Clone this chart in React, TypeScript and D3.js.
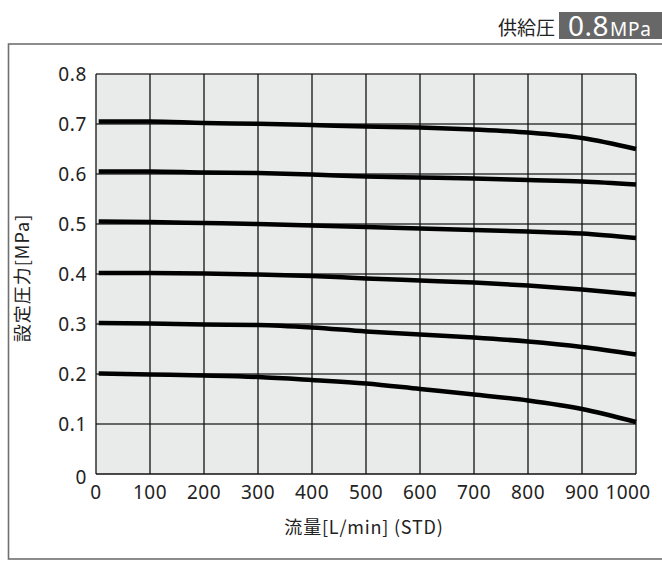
import React from 'react';
import * as d3 from 'd3';

// flow [L/min] (STD) sample points
const flows = [5, 100, 200, 300, 400, 500, 600, 700, 800, 900, 1000];

// set pressure [MPa]
const p07 = [0.705, 0.705, 0.702, 0.7006, 0.698, 0.695, 0.693, 0.689, 0.683, 0.672, 0.65];
const p06 = [0.605, 0.605, 0.603, 0.602, 0.599, 0.595, 0.593, 0.591, 0.588, 0.585, 0.579];
const p05 = [0.505, 0.504, 0.502, 0.5, 0.497, 0.494, 0.491, 0.488, 0.485, 0.481, 0.472];
const p04 = [0.402, 0.402, 0.401, 0.399, 0.396, 0.391, 0.387, 0.383, 0.377, 0.369, 0.359];
const p03 = [0.302, 0.301, 0.299, 0.298, 0.293, 0.285, 0.279, 0.273, 0.265, 0.254, 0.239];
const p02 = [0.201, 0.199, 0.197, 0.194, 0.188, 0.181, 0.17, 0.159, 0.147, 0.13, 0.104];

const series = [p07, p06, p05, p04, p03, p02];

const xTicks = [0, 100, 200, 300, 400, 500, 600, 700, 800, 900, 1000];
const yTicks = [0, 0.1, 0.2, 0.3, 0.4, 0.5, 0.6, 0.7, 0.8];

const supplyLabel = '供給圧';
const supplyValue = '0.8';
const supplyUnit = 'MPa';
const xTitle = '流量[L/min] (STD)';
const yTitle = '設定圧力[MPa]';

const W = 662;
const H = 561;
const plot = { left: 96, right: 636, top: 74, bottom: 474 };

const numFont = '"Noto Sans", "DejaVu Sans", sans-serif';
const cjkFont = '"Noto Sans CJK JP", "Noto Sans", sans-serif';

export default function App() {
  const x = d3.scaleLinear().domain([0, 1000]).range([plot.left, plot.right]);
  const y = d3.scaleLinear().domain([0, 0.8]).range([plot.bottom, plot.top]);

  const line = d3
    .line<number>()
    .x((_, i) => x(flows[i]))
    .y((d) => y(d))
    .curve(d3.curveMonotoneX);

  return (
    <>
      <style>{`body{margin:0}`}</style>
      <svg width={W} height={H} style={{ display: 'block' }}>
        <rect x={0} y={0} width={W} height={H} fill="#fff" />

        {/* header */}
        <text x={555} y={35} textAnchor="end" fontFamily={cjkFont} fontSize={19} fill="#222">
          {supplyLabel}
        </text>
        <rect x={559} y={12} width={110} height={27} fill="#676767" />
        <text x={568} y={36} fontFamily={numFont} fill="#fff">
          <tspan fontSize={28} letterSpacing={0.5}>{supplyValue}</tspan>
          <tspan fontSize={19} dx={1} letterSpacing={0.8}>{supplyUnit}</tspan>
        </text>

        {/* outer frame */}
        <rect x={8.5} y={44} width={700} height={515} fill="none" stroke="#707070" strokeWidth={1.6} />

        {/* plot background */}
        <rect
          x={plot.left}
          y={plot.top}
          width={plot.right - plot.left}
          height={plot.bottom - plot.top}
          fill="#e9eaea"
        />

        {/* grid */}
        {yTicks.map((t) => (
          <line
            key={'h' + t}
            x1={plot.left}
            x2={plot.right}
            y1={y(t)}
            y2={y(t)}
            stroke={t === 0 ? '#111' : '#3a3a3a'}
            strokeWidth={1.3}
          />
        ))}
        {xTicks.map((t) => (
          <line
            key={'v' + t}
            x1={x(t)}
            x2={x(t)}
            y1={plot.top}
            y2={plot.bottom}
            stroke="#111"
            strokeWidth={1.3}
          />
        ))}

        {/* curves */}
        {series.map((s, i) => (
          <path
            key={'s' + i}
            d={line(s) ?? ''}
            fill="none"
            stroke="#000"
            strokeWidth={4.5}
            strokeLinejoin="round"
          />
        ))}

        {/* y tick labels */}
        {yTicks.map((t) => (
          <text
            key={'yl' + t}
            x={87}
            y={y(t) + (t === 0 ? 3 : 0)}
            dy="0.36em"
            textAnchor="end"
            fontFamily={numFont}
            fontSize={19}
            letterSpacing={0.6}
            fill="#222"
          >
            {t === 0 ? '0' : t.toFixed(1)}
          </text>
        ))}

        {/* x tick labels */}
        {xTicks.map((t) => (
          <text
            key={'xl' + t}
            x={t === 1000 ? x(t) - 8 : x(t)}
            y={499}
            textAnchor="middle"
            fontFamily={numFont}
            fontSize={19}
            letterSpacing={0.4}
            fill="#222"
          >
            {t}
          </text>
        ))}

        {/* axis titles */}
        <text
          x={364}
          y={534}
          textAnchor="middle"
          fontFamily={cjkFont}
          fontSize={18}
          letterSpacing={0.8}
          fill="#222"
        >
          {xTitle}
        </text>
        <text
          transform={`translate(29,${(plot.top + plot.bottom) / 2 + 4}) rotate(-90)`}
          textAnchor="middle"
          fontFamily={cjkFont}
          fontSize={18}
          letterSpacing={1}
          fill="#222"
        >
          {yTitle}
        </text>
      </svg>
    </>
  );
}
